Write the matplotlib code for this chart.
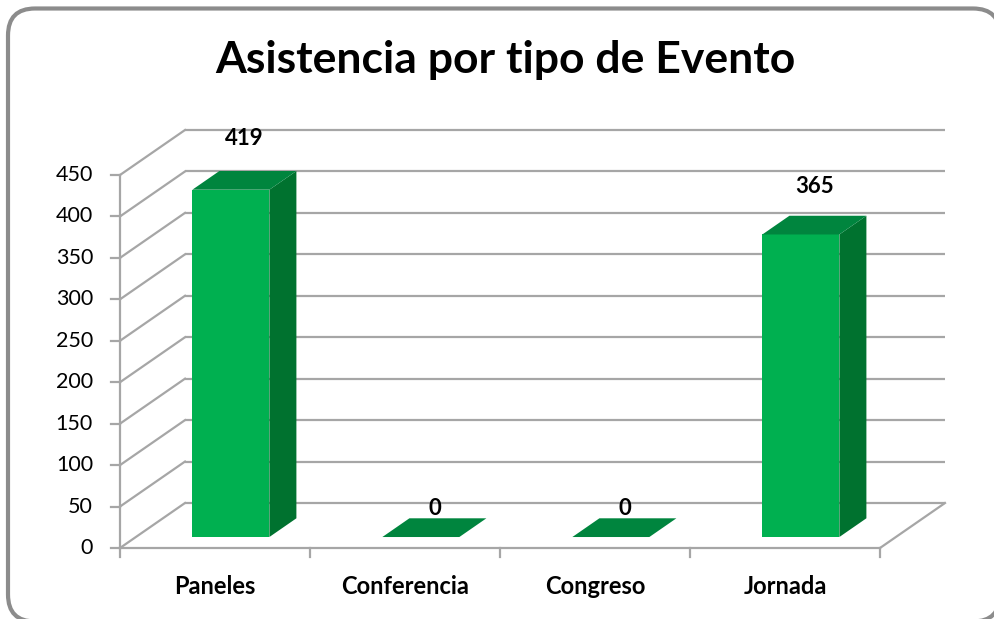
import matplotlib.pyplot as plt
from matplotlib.patches import Polygon, FancyBboxPatch

# datos
categorias = ['Paneles', 'Conferencia', 'Congreso', 'Jornada']
asistencia = [419, 0, 0, 365]
ticks_y = [0, 50, 100, 150, 200, 250, 300, 350, 400, 450]

plt.rcParams['font.family'] = ['Lato', 'DejaVu Sans']

W, H = 994, 619
fig = plt.figure(figsize=(W / 100, H / 100), dpi=100)

# marco redondeado y titulo (en pixeles)
marco = fig.add_axes([0, 0, 1, 1])
marco.set_xlim(0, W)
marco.set_ylim(H, 0)
marco.axis('off')
marco.add_patch(FancyBboxPatch((8, 8.5), 992, 613, boxstyle='round,pad=0,rounding_size=27',
                               fc='white', ec='#8c8c8c', lw=3, clip_on=False))
marco.text(505, 73, 'Asistencia por tipo de Evento', ha='center', va='baseline',
           fontsize=32, fontweight='bold', color='black')

# ejes del grafico "3D" (proyeccion oblicua)
px_x = 190.0            # pixeles por categoria
px_v = 373.0 / 450      # pixeles por unidad
ax = fig.add_axes([0, 0, 1, 1])
ax.axis('off')
ax.set_xlim(-0.5 - 120 / px_x, -0.5 + (W - 120) / px_x)
ax.set_ylim(-(H - 548) / px_v, 548 / px_v)

DX = 65 / px_x
DY = 45 / px_v


def proy(x, v, d):
    return (x + d * DX, v + d * DY)


gris = '#a6a6a6'
lw = 1.6
x0, x1 = -0.5, len(categorias) - 0.5

# pared del fondo y pared izquierda
for t in ticks_y:
    a, b = proy(x0, t, 1), proy(x1, t, 1)
    ax.plot([a[0], b[0]], [a[1], b[1]], color=gris, lw=lw, solid_capstyle='butt')
    a, b = proy(x0, t, 0), proy(x0, t, 1)
    ax.plot([a[0], b[0]], [a[1], b[1]], color=gris, lw=lw)
    # marca y etiqueta del eje y
    ax.plot([x0 - 9 / px_x, x0], [t, t], color=gris, lw=lw)
    ax.annotate(str(t), (x0, t), xytext=(-27, 0), textcoords='offset pixels',
                ha='right', va='center', fontsize=15.5)

# piso
a, b = proy(x1, 0, 0), proy(x1, 0, 1)
ax.plot([a[0], b[0]], [a[1], b[1]], color=gris, lw=lw)
ax.plot([x0, x1], [0, 0], color=gris, lw=lw)
ax.plot([x0, x0], [0, ticks_y[-1]], color=gris, lw=lw)

# marcas del eje x
for i in range(len(categorias) + 1):
    ax.plot([x0 + i, x0 + i], [0, -9 / px_v], color=gris, lw=lw)

# barras
w = 77 / px_x
d0, d1 = 0.244, 0.66
frente, techo, lado = '#00b050', '#00853e', '#00722f'
for i, (cat, v) in enumerate(zip(categorias, asistencia)):
    xl, xr = i - w / 2, i + w / 2
    top = [proy(xl, v, d0), proy(xr, v, d0), proy(xr, v, d1), proy(xl, v, d1)]
    if v > 0:
        ax.add_patch(Polygon([proy(xl, 0, d0), proy(xr, 0, d0), proy(xr, v, d0), proy(xl, v, d0)],
                             closed=True, fc=frente, ec='none', zorder=3))
        ax.add_patch(Polygon([proy(xr, 0, d0), proy(xr, 0, d1), proy(xr, v, d1), proy(xr, v, d0)],
                             closed=True, fc=lado, ec='none', zorder=3))
    ax.add_patch(Polygon(top, closed=True, fc=techo, ec='none', zorder=3))

    # etiqueta de valor
    cx, cy = proy(i, v, (d0 + d1) / 2)
    ax.annotate(str(v), (cx, cy), xytext=(0, 19 + 0.055 * v), textcoords='offset pixels',
                ha='center', va='center', fontsize=16, fontweight='bold', zorder=4)

    # etiqueta de categoria
    ax.annotate(cat, (i, 0), xytext=(0, -38), textcoords='offset pixels',
                ha='center', va='center', fontsize=17, fontweight='bold')

fig.savefig('out.png', dpi=100, facecolor='white')
